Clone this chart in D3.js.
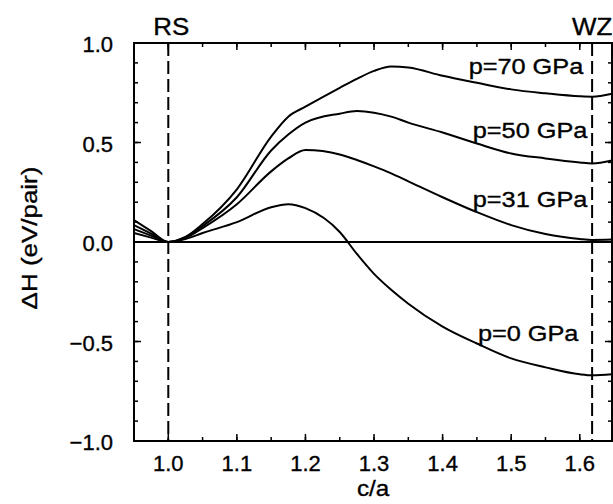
<!DOCTYPE html>
<html>
<head>
<meta charset="utf-8">
<script src="https://cdn.jsdelivr.net/npm/d3@7"></script>
<style>
  body { margin: 0; background: #fff; }
  svg text { font-family: "Liberation Sans", Arial, Helvetica, sans-serif; fill: #000; stroke: #000; stroke-width: 0.35px; }
</style>
</head>
<body>
<script>
// c/a points where the curves were read
var caValues = [0.95, 0.975, 1.0, 1.025, 1.05, 1.1, 1.15, 1.175, 1.2, 1.25, 1.275, 1.3, 1.325, 1.35, 1.4, 1.45, 1.5, 1.55, 1.6, 1.618, 1.647];

// enthalpy difference (eV/pair) for each pressure
var p0Values  = [0.045, 0.022, 0, 0.015, 0.045, 0.10, 0.175, 0.19, 0.17, 0.05, -0.06, -0.16, -0.24, -0.31, -0.425, -0.51, -0.585, -0.63, -0.665, -0.67, -0.665];
var p31Values = [0.065, 0.032, 0, 0.02, 0.07, 0.19, 0.355, 0.42, 0.462, 0.44, 0.412, 0.38, 0.345, 0.305, 0.225, 0.15, 0.085, 0.04, 0.015, 0.01, 0.012];
var p50Values = [0.085, 0.042, 0, 0.025, 0.08, 0.225, 0.46, 0.54, 0.60, 0.645, 0.658, 0.65, 0.63, 0.60, 0.55, 0.495, 0.445, 0.42, 0.40, 0.395, 0.41];
var p70Values = [0.11, 0.055, 0, 0.025, 0.09, 0.265, 0.53, 0.63, 0.68, 0.775, 0.82, 0.86, 0.882, 0.877, 0.835, 0.80, 0.767, 0.747, 0.732, 0.73, 0.745];

var seriesNames = ["p=0 GPa", "p=31 GPa", "p=50 GPa", "p=70 GPa"];
// label anchors (end of text) in data coordinates
var labelCa = [1.598, 1.611, 1.611, 1.605];
var labelDH = [-0.496, 0.175, 0.521, 0.842];

var phaseNames = ["RS", "WZ"];
var phaseCa = [1.0, 1.618];

var xTicks = [1.0, 1.1, 1.2, 1.3, 1.4, 1.5, 1.6];
var yTicks = [-1.0, -0.5, 0.0, 0.5, 1.0];

var margin = {top: 43, right: 1, bottom: 63, left: 134},
  width = 613 - margin.left - margin.right,
  height = 504 - margin.top - margin.bottom;

var svg = d3.select("body").append("svg")
  .attr("width", 613)
  .attr("height", 504);

var g = svg.append("g")
  .attr("transform", "translate(" + margin.left + "," + margin.top + ")");

var x = d3.scaleLinear().domain([0.95, 1.647]).range([0, width]);
var y = d3.scaleLinear().domain([-1, 1]).range([height, 0]);

// minor and major ticks on all four sides, pointing inward
function tickMarks(sel, vals, len, horizontal) {
  vals.forEach(function(v) {
    if (horizontal) {
      sel.append("line").attr("x1", x(v)).attr("x2", x(v)).attr("y1", height).attr("y2", height - len);
      sel.append("line").attr("x1", x(v)).attr("x2", x(v)).attr("y1", 0).attr("y2", len);
    } else {
      sel.append("line").attr("x1", 0).attr("x2", len).attr("y1", y(v)).attr("y2", y(v));
      sel.append("line").attr("x1", width).attr("x2", width - len).attr("y1", y(v)).attr("y2", y(v));
    }
  });
}
var ticksG = g.append("g").attr("stroke", "#000").attr("stroke-width", 1.5);
var xMinor = d3.range(0.95, 1.65, 0.05).map(function(v) { return Math.round(v * 100) / 100; });
var yMinor = d3.range(-1, 1.001, 0.1).map(function(v) { return Math.round(v * 10) / 10; });
tickMarks(ticksG, xMinor, 4, true);
tickMarks(ticksG, yMinor, 4, false);
tickMarks(ticksG, xTicks, 7, true);
tickMarks(ticksG, yTicks, 7, false);

// tick labels
g.selectAll(".xlab").data(xTicks).enter().append("text")
  .attr("x", function(d) { return x(d); })
  .attr("y", height + 30)
  .attr("text-anchor", "middle")
  .attr("font-size", "22px")
  .text(function(d) { return d3.format(".1f")(d); });

g.selectAll(".ylab").data(yTicks).enter().append("text")
  .attr("x", -21)
  .attr("y", function(d) { return y(d) + 9; })
  .attr("text-anchor", "end")
  .attr("font-size", "22px")
  .text(function(d) { return d3.format(".1f")(d).replace("-", "\u2212"); });

// axis titles
svg.append("text")
  .attr("transform", "translate(373,496) scale(1.1,1)")
  .attr("text-anchor", "middle")
  .attr("font-size", "22px")
  .text("c/a");

svg.append("text")
  .attr("transform", "translate(37,238) rotate(-90) scale(1.18,1)")
  .attr("text-anchor", "middle")
  .attr("font-size", "22px")
  .text("\u0394H (eV/pair)");

// zero line
g.append("line")
  .attr("x1", 0).attr("x2", width)
  .attr("y1", y(0)).attr("y2", y(0))
  .attr("stroke", "#000").attr("stroke-width", 2);

// phase markers
g.selectAll(".phase").data(phaseCa).enter().append("line")
  .attr("x1", function(d) { return x(d); })
  .attr("x2", function(d) { return x(d); })
  .attr("y1", 0).attr("y2", height)
  .attr("stroke", "#000").attr("stroke-width", 2)
  .attr("stroke-dasharray", "13,5");

g.selectAll(".phaselab").data(phaseCa).enter().append("text")
  .attr("transform", function(d, i) { return "translate(" + (x(d) + (i === 0 ? 3 : 0)) + ",-8) scale(1.08,1)"; })
  .attr("text-anchor", "middle")
  .attr("font-size", "24px")
  .text(function(d, i) { return phaseNames[i]; });

// curves
var allSeries = [p0Values, p31Values, p50Values, p70Values];
var line = d3.line()
  .x(function(d) { return x(d[0]); })
  .y(function(d) { return y(d[1]); })
  .curve(d3.curveMonotoneX);

g.selectAll(".curve").data(allSeries).enter().append("path")
  .attr("d", function(s) { return line(s.map(function(v, i) { return [caValues[i], v]; })); })
  .attr("fill", "none")
  .attr("stroke", "#000")
  .attr("stroke-width", 2);

g.selectAll(".plab").data(seriesNames).enter().append("text")
  .attr("transform", function(d, i) { return "translate(" + x(labelCa[i]) + "," + y(labelDH[i]) + ") scale(1.15,1)"; })
  .attr("text-anchor", "end")
  .attr("font-size", "22px")
  .text(function(d) { return d; });

// frame
g.append("rect")
  .attr("width", width).attr("height", height)
  .attr("fill", "none")
  .attr("stroke", "#000").attr("stroke-width", 2);
</script>
</body>
</html>
